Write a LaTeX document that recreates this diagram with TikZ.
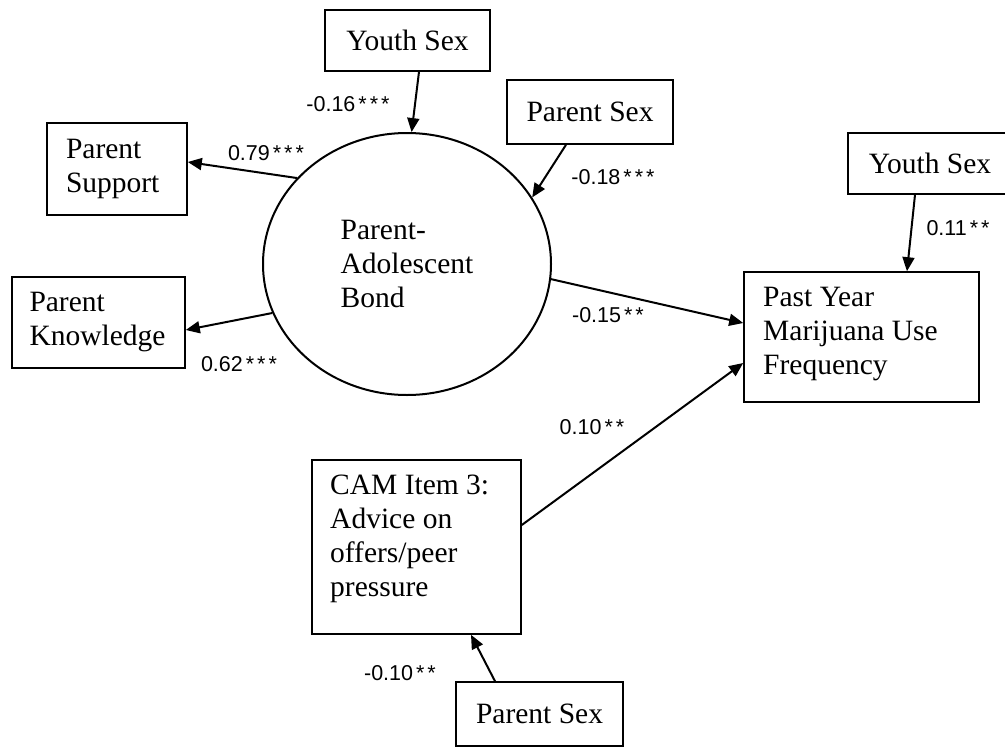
\documentclass[tikz,border=0pt]{standalone}
\usepackage{fontspec}
\setmainfont{Liberation Serif}
\newfontfamily\lblfont{Liberation Sans}
\usetikzlibrary{shapes.geometric,arrows.meta}
\newcommand\askern{\kern3pt}
\begin{document}
\begin{tikzpicture}[x=1pt,y=-1pt,
  every node/.style={font=\fontsize{29.5}{34}\selectfont},
  box/.style={draw,line width=1.6pt,rectangle,inner sep=0pt},
  leftbox/.style={box,align=left},
  txt/.style={inner sep=0pt,align=left},
  coef/.style={inner sep=0pt,font=\lblfont\fontsize{21.5}{24}\selectfont},
  arr/.style={line width=2pt,-{Triangle[length=14pt,width=12pt]}},
  con/.style={line width=2pt}]
\useasboundingbox (0,0) rectangle (1005,747);
\fill[white] (0,0) rectangle (1005,747);

% latent variable
\node (bond) [draw,line width=2pt,ellipse,minimum width=288pt,minimum height=262pt,inner sep=0pt,align=left] at (407,264) {Parent-\\Adolescent\\Bond};

% boxes
\node (ys1) [box,minimum width=165pt,minimum height=61pt] at (407.5,40.5) {Youth Sex};
\node (psx1) [box,minimum width=166pt,minimum height=64pt] at (590,112) {Parent Sex};
\node (ys2) [box,minimum width=164pt,minimum height=61pt] at (930,163.5) {Youth Sex};
\node (ps) [leftbox,minimum width=140pt,minimum height=92pt,text width=102pt,inner xsep=19pt] at (117,169) {Parent\\Support};
\node (pk) [leftbox,minimum width=173pt,minimum height=91pt,text width=138pt,inner xsep=17.5pt] at (98.5,322.5) {Parent\\Knowledge};
\node (past) [box,minimum width=235pt,minimum height=130pt] at (861.5,337) {};
\node (pasttxt) [txt,anchor=west] at (763,334) {Past Year\\Marijuana Use\\Frequency};
\node (cam) [box,minimum width=209pt,minimum height=174pt] at (416.5,547) {};
\node (camtxt) [txt,anchor=west] at (330,539) {CAM Item 3:\\Advice on\\offers/peer\\pressure};
\node (psx2) [box,minimum width=167pt,minimum height=64pt] at (539.5,714) {Parent Sex};

% connectors
\draw[arr] ([xshift=11.5pt]ys1.south) -- (bond.88);
\draw[arr] ([xshift=-24pt]psx1.south) -- (bond.28);
\draw[arr] (bond.142) -- ([yshift=7pt]ps.east);
\draw[arr] (bond.200) -- ([yshift=-7.5pt]pk.east);
\draw[arr] (bond.354.5) -- ([yshift=14pt]past.west);
\draw[arr] ([xshift=-15pt]ys2.south) -- ([xshift=45.5pt]past.north);
\draw[arr] ([yshift=22pt]cam.east) -- ([yshift=-26pt]past.west);
\draw[arr] ([xshift=-44.5pt]psx2.north) -- ([xshift=54.5pt]cam.south);

% coefficients
\node (c1) [coef] at (348,104) {-0.16\askern*\askern*\askern*};
\node (c2) [coef] at (266,153) {0.79\askern*\askern*\askern*};
\node (c3) [coef] at (239,364) {0.62\askern*\askern*\askern*};
\node (c4) [coef] at (613,177) {-0.18\askern*\askern*\askern*};
\node (c5) [coef] at (958,228) {0.11\askern*\askern*};
\node (c6) [coef] at (608,315) {-0.15\askern*\askern*};
\node (c7) [coef] at (592,427) {0.10\askern*\askern*};
\node (c8) [coef] at (400,673) {-0.10\askern*\askern*};
\end{tikzpicture}
\end{document}
